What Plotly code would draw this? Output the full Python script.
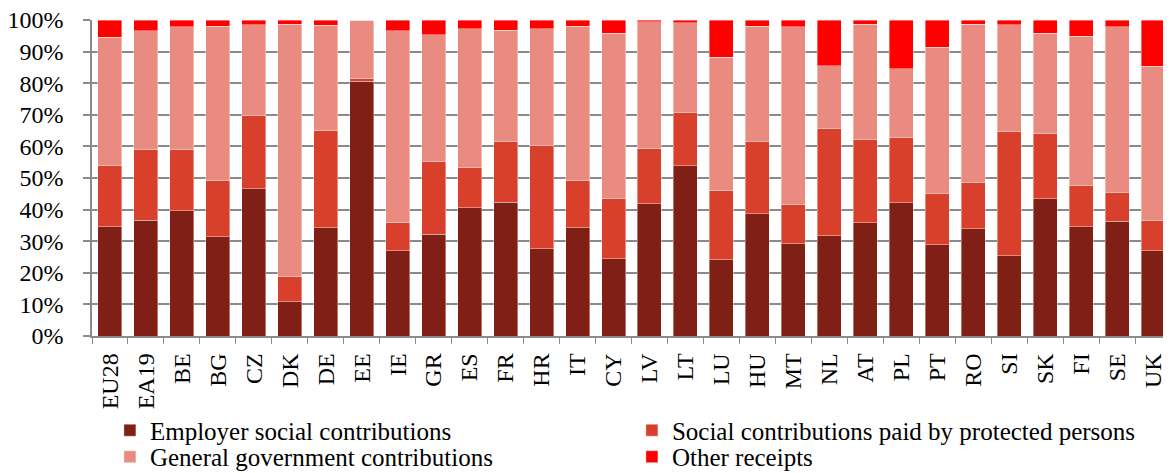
import plotly.graph_objects as go

countries = ["EU28", "EA19", "BE", "BG", "CZ", "DK", "DE", "EE", "IE", "GR",
             "ES", "FR", "HR", "IT", "CY", "LV", "LT", "LU", "HU", "MT",
             "NL", "AT", "PL", "PT", "RO", "SI", "SK", "FI", "SE", "UK"]

employer = [34.6, 36.7, 39.6, 31.4, 46.6, 10.8, 34.3, 80.6, 27.0, 32.2,
            40.6, 42.4, 27.6, 34.3, 24.5, 41.8, 53.9, 24.2, 38.7, 29.2,
            31.8, 35.9, 42.2, 28.8, 33.9, 25.4, 43.5, 34.6, 36.3, 27.0]
protected = [19.3, 22.2, 19.4, 17.8, 23.2, 8.0, 30.6, 1.0, 8.9, 22.9,
             12.7, 19.1, 32.8, 14.8, 19.0, 17.4, 16.7, 22.0, 23.0, 12.3,
             33.8, 26.2, 20.5, 16.3, 14.8, 39.2, 20.5, 13.0, 9.1, 9.7]
government = [40.6, 37.7, 38.9, 48.9, 28.7, 79.9, 33.4, 18.4, 60.7, 40.2,
              44.0, 35.3, 36.9, 49.0, 52.3, 40.3, 28.6, 42.0, 36.4, 56.4,
              19.9, 36.6, 21.8, 46.3, 50.0, 33.9, 31.8, 47.3, 52.5, 48.7]
other = [5.5, 3.4, 2.1, 1.9, 1.5, 1.3, 1.7, 0.0, 3.4, 4.7,
         2.7, 3.2, 2.7, 1.9, 4.2, 0.5, 0.8, 11.8, 1.9, 2.1,
         14.5, 1.3, 15.5, 8.6, 1.3, 1.5, 4.2, 5.1, 2.1, 14.6]

y_tick_values = [0, 10, 20, 30, 40, 50, 60, 70, 80, 90, 100]
y_tick_labels = ["0%", "10%", "20%", "30%", "40%", "50%",
                 "60%", "70%", "80%", "90%", "100%"]

series = [
    ("Employer social contributions", employer, "#7F1F16", "legend"),
    ("Social contributions paid by protected persons", protected, "#D8402B", "legend"),
    ("General government contributions", government, "#E98B80", "legend2"),
    ("Other receipts", other, "#FF0000", "legend2"),
]

FONT = "Liberation Serif, Times New Roman, serif"
legend_common = dict(
    orientation="h",
    x=0.0166, xanchor="left",
    yanchor="top",
    entrywidth=477,
    font=dict(family=FONT, size=25, color="black"),
    traceorder="normal",
    bgcolor="rgba(0,0,0,0)",
    itemclick=False, itemdoubleclick=False,
)

fig = go.Figure()
for name, vals, color, leg in series:
    fig.add_trace(go.Bar(
        x=countries, y=vals, name=name, legend=leg,
        marker=dict(color=color, line=dict(color="rgba(255,255,255,0.55)", width=0.7)),
        hoverinfo="skip",
    ))

# the page body adds an 8px offset, so the figure is sized to fit the window
fig.update_layout(
    barmode="stack",
    bargap=0.333,
    width=1163, height=465,
    margin=dict(l=84, r=0, t=12, b=137, autoexpand=False),
    paper_bgcolor="white", plot_bgcolor="white",
    font=dict(family=FONT, size=24, color="black"),
    showlegend=True,
    legend=dict(legend_common, y=-0.226),
    legend2=dict(legend_common, y=-0.31),
)

fig.update_xaxes(
    tickangle=-90,
    ticks="outside", ticklen=6, tickcolor="#8a8a8a", tickwidth=1,
    tickson="boundaries",
    ticklabelstandoff=6,
    showline=True, linecolor="#8a8a8a", linewidth=1.5,
    showgrid=False,
    automargin=False,
    tickfont=dict(family=FONT, size=24, color="black"),
    fixedrange=True,
)
fig.update_yaxes(
    range=[0, 100],
    tickmode="array",
    tickvals=y_tick_values,
    ticktext=y_tick_labels,
    ticks="outside", ticklen=7, tickcolor="#8a8a8a", tickwidth=1.5,
    ticklabelstandoff=15,
    ticklabeloverflow="allow",
    showline=True, linecolor="#8a8a8a", linewidth=1.5,
    showgrid=True, gridcolor="#8a8a8a", gridwidth=1.5,
    zeroline=False,
    automargin=False,
    tickfont=dict(family=FONT, size=24, color="black"),
    fixedrange=True,
)

fig.write_html("out.html")
